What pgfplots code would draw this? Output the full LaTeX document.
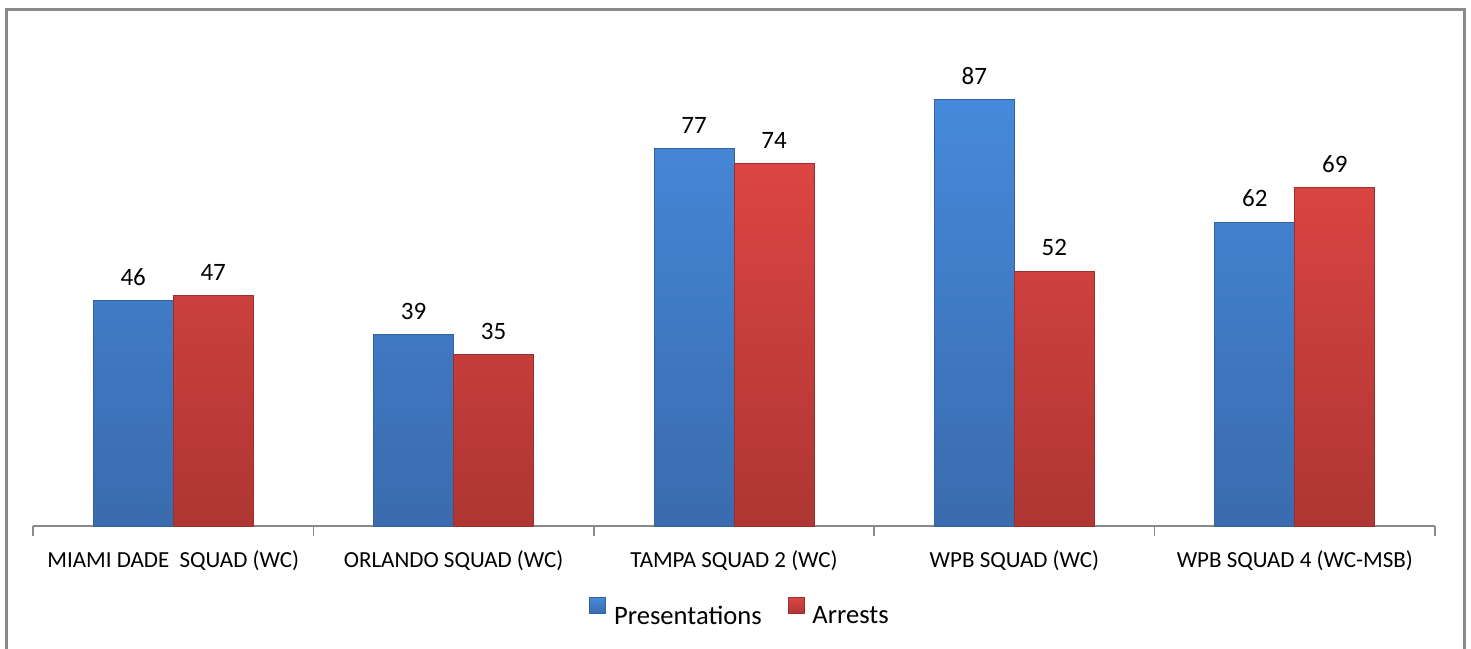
\documentclass[border=0pt]{standalone}
\usepackage{fontspec}
\setmainfont{Carlito}
\usepackage{pgfplots}
\pgfplotsset{compat=1.18}
\definecolor{bluetop}{HTML}{4689DA}
\definecolor{bluebot}{HTML}{3A6BAE}
\definecolor{blueedge}{HTML}{35619F}
\definecolor{redtop}{HTML}{DC4543}
\definecolor{redbot}{HTML}{AE3633}
\definecolor{rededge}{HTML}{99302E}
\definecolor{frame}{HTML}{8A8A8A}
\begin{document}
\begin{tikzpicture}
\useasboundingbox (0pt,0pt) rectangle (735.5pt,324pt);
\draw[frame, line width=1.5pt] (3.25pt,-5pt) -- (3.25pt,319.25pt) -- (732.25pt,319.25pt) -- (732.25pt,-5pt);
\begin{axis}[
  at={(16.5pt,61pt)}, anchor=south west,
  scale only axis, width=701pt, height=245pt,
  xmin=-0.5, xmax=4.5, ymin=0, ymax=100,
  axis x line*=bottom, axis y line=none,
  axis line style={frame, line width=0.8pt, -},
  ybar=0pt, bar width=40pt,
  xtick={0,1,2,3,4},
  xticklabels={MIAMI DADE\ \ SQUAD (WC), ORLANDO SQUAD (WC), TAMPA SQUAD 2 (WC), WPB SQUAD (WC), WPB SQUAD 4 (WC-MSB)},
  major tick length=0pt,
  minor xtick={-0.5,0.5,1.5,2.5,3.5,4.5},
  minor tick length=5pt, tick align=outside,
  minor x tick style={draw=frame, line width=0.8pt},
  xticklabel style={font=\fontsize{11.5}{13}\selectfont, yshift=-9pt},
  /pgf/number format/assume math mode=true,
  nodes near coords,
  every node near coord/.append style={font=\fontsize{12.5}{14}\selectfont, black, yshift=4pt},
  legend style={at={(0.505,-0.18)}, anchor=center, draw=none, legend columns=2,
    font=\fontsize{13.3}{15}\selectfont,
    /tikz/every odd column/.append style={column sep=2pt},
    /tikz/every even column/.append style={column sep=11pt}},
  legend image code/.code={\path (0pt,-1.5pt); \fill[#1] (0pt,1.5pt) rectangle (8pt,9.5pt);},
]
\addplot[top color=bluetop, bottom color=bluebot, draw=blueedge, line width=0.4pt]
  coordinates {(0,46) (1,39) (2,77) (3,87) (4,62)};
\addplot[top color=redtop, bottom color=redbot, draw=rededge, line width=0.4pt]
  coordinates {(0,47) (1,35) (2,74) (3,52) (4,69)};
\legend{Presentations, Arrests}
\end{axis}
\end{tikzpicture}
\end{document}
